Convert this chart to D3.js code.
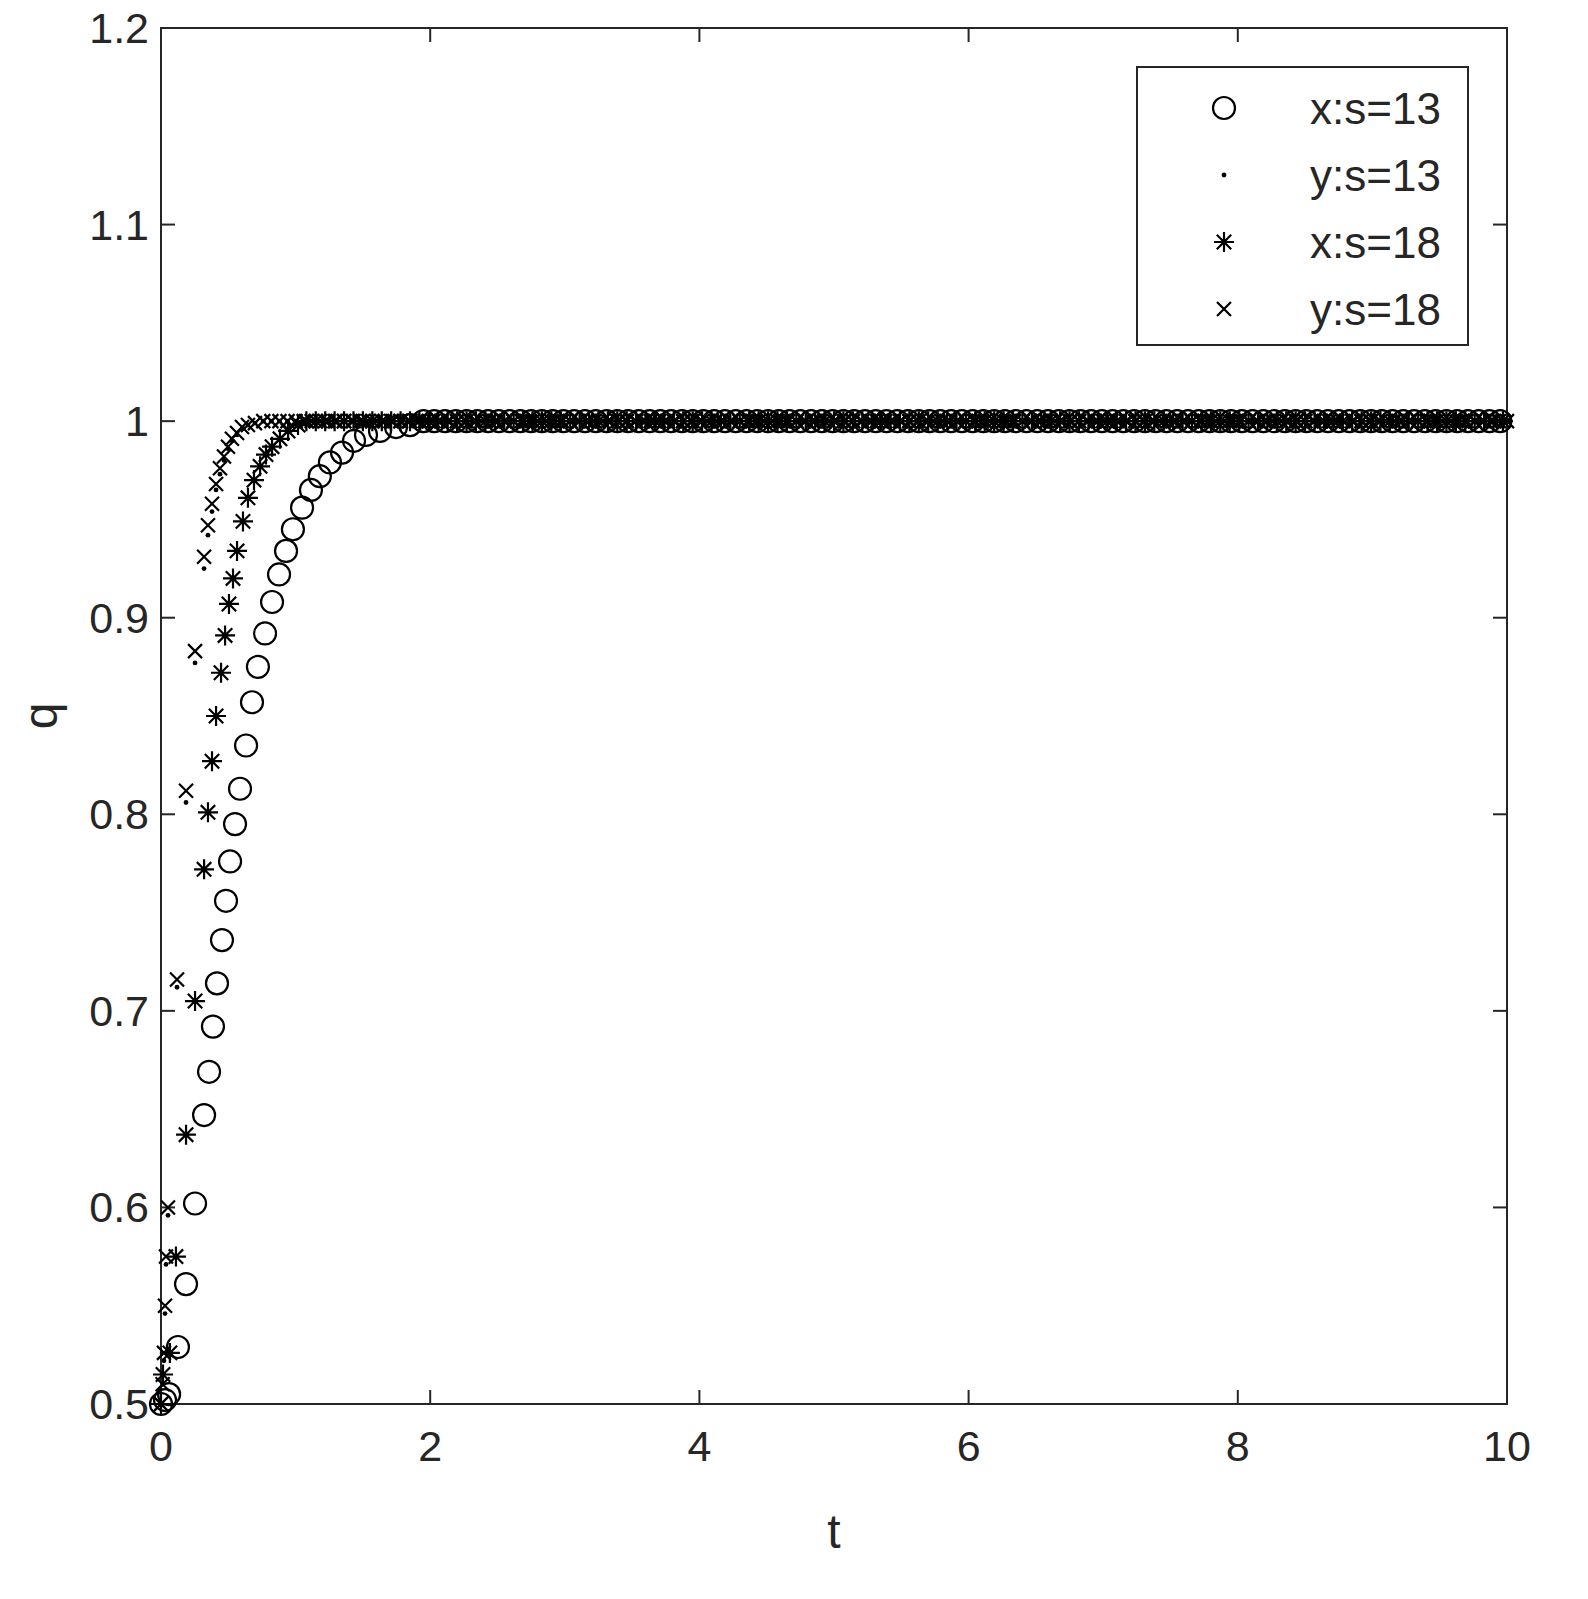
<!DOCTYPE html>
<html>
<head>
<meta charset="utf-8">
<script src="https://cdn.jsdelivr.net/npm/d3@7"></script>
<style>
body { margin: 0; background: #fff; }
text { font-family: "Liberation Sans", Arial, sans-serif; fill: #262626; }
</style>
</head>
<body>
<svg id="chart" width="1588" height="1599"></svg>
<script>
// values
const xTicks = [0, 2, 4, 6, 8, 10];
const yTicks = [0.5, 0.6, 0.7, 0.8, 0.9, 1, 1.1, 1.2];

// x:s=13 (circles)
const tX13 = [0, 0.03, 0.06, 0.126, 0.186, 0.253, 0.32, 0.357, 0.386, 0.416, 0.453, 0.483, 0.513, 0.55, 0.587, 0.632, 0.676, 0.72, 0.773, 0.825, 0.877, 0.929, 0.98, 1.048, 1.114, 1.18, 1.255, 1.345, 1.434, 1.523, 1.627, 1.746, 1.85];
const qX13 = [0.5, 0.502, 0.505, 0.529, 0.561, 0.602, 0.647, 0.669, 0.692, 0.714, 0.736, 0.756, 0.776, 0.795, 0.813, 0.835, 0.857, 0.875, 0.892, 0.908, 0.922, 0.934, 0.945, 0.956, 0.965, 0.972, 0.979, 0.984, 0.99, 0.993, 0.995, 0.997, 0.998];

// y:s=13 (dots)
const tY13 = [0, 0.022, 0.03, 0.037, 0.052, 0.119, 0.186, 0.253, 0.32, 0.349, 0.379, 0.409, 0.438, 0.468, 0.498, 0.527, 0.565, 0.602, 0.646, 0.698];
const qY13 = [0.5, 0.522, 0.546, 0.571, 0.596, 0.712, 0.806, 0.877, 0.925, 0.942, 0.954, 0.965, 0.973, 0.98, 0.986, 0.99, 0.993, 0.996, 0.998, 0.999];

// x:s=18 (asterisks)
const tX18 = [0, 0.015, 0.066, 0.111, 0.186, 0.253, 0.32, 0.349, 0.379, 0.409, 0.446, 0.476, 0.505, 0.535, 0.565, 0.609, 0.646, 0.691, 0.736, 0.78, 0.825, 0.884, 0.944, 1.018];
const qX18 = [0.5, 0.515, 0.526, 0.575, 0.637, 0.705, 0.772, 0.801, 0.827, 0.85, 0.872, 0.891, 0.907, 0.92, 0.934, 0.949, 0.961, 0.97, 0.977, 0.983, 0.987, 0.991, 0.995, 0.998];

// y:s=18 (crosses)
const tY18 = [0, 0.012, 0.022, 0.03, 0.037, 0.052, 0.119, 0.186, 0.253, 0.32, 0.349, 0.379, 0.409, 0.438, 0.468, 0.498, 0.527, 0.565, 0.602, 0.646, 0.698];
const qY18 = [0.5, 0.51, 0.526, 0.55, 0.575, 0.6, 0.716, 0.812, 0.883, 0.931, 0.947, 0.958, 0.968, 0.976, 0.982, 0.987, 0.991, 0.994, 0.997, 0.998, 0.999];

// all four series sit at q = 1 after the transient, sampled at the solver steps
const tailX13 = d3.range(1.95, 10.001, 0.08);
const tailY13 = d3.range(0.76, 10.001, 0.06);
const tailX18 = d3.range(1.08, 10.001, 0.07);
const tailY18 = d3.range(0.76, 10.001, 0.06);

const series = [
  { name: "x:s=13", shape: "circle", t: tX13.concat(tailX13), q: qX13.concat(tailX13.map(() => 1)) },
  { name: "y:s=13", shape: "dot", t: tY13.concat(tailY13), q: qY13.concat(tailY13.map(() => 1)) },
  { name: "x:s=18", shape: "star", t: tX18.concat(tailX18), q: qX18.concat(tailX18.map(() => 1)) },
  { name: "y:s=18", shape: "cross", t: tY18.concat(tailY18), q: qY18.concat(tailY18.map(() => 1)) }
];

const svg = d3.select("#chart");
const L = 161, R = 1507, T = 28, B = 1404;
const x = d3.scaleLinear().domain([0, 10]).range([L, R]);
const y = d3.scaleLinear().domain([0.5, 1.2]).range([B, T]);

// box and inward ticks on all sides
svg.append("rect").attr("x", L).attr("y", T).attr("width", R - L).attr("height", B - T)
  .attr("fill", "none").attr("stroke", "#262626").attr("stroke-width", 2);
const tl = 14;
xTicks.forEach(v => {
  svg.append("line").attr("x1", x(v)).attr("x2", x(v)).attr("y1", B).attr("y2", B - tl).attr("stroke", "#262626").attr("stroke-width", 2);
  svg.append("line").attr("x1", x(v)).attr("x2", x(v)).attr("y1", T).attr("y2", T + tl).attr("stroke", "#262626").attr("stroke-width", 2);
  svg.append("text").attr("x", x(v)).attr("y", B + 57).attr("text-anchor", "middle").attr("font-size", 43).text(v);
});
yTicks.forEach(v => {
  svg.append("line").attr("x1", L).attr("x2", L + tl).attr("y1", y(v)).attr("y2", y(v)).attr("stroke", "#262626").attr("stroke-width", 2);
  svg.append("line").attr("x1", R).attr("x2", R - tl).attr("y1", y(v)).attr("y2", y(v)).attr("stroke", "#262626").attr("stroke-width", 2);
  svg.append("text").attr("x", L - 12).attr("y", y(v) + 15).attr("text-anchor", "end").attr("font-size", 43).text(v);
});
svg.append("text").attr("x", (L + R) / 2).attr("y", 1548).attr("text-anchor", "middle").attr("font-size", 48).text("t");
svg.append("text").attr("transform", "translate(57," + (T + B) / 2 + ") rotate(-90)")
  .attr("text-anchor", "middle").attr("font-size", 48).text("q");

function drawMarker(g, shape, cx, cy) {
  if (shape === "circle") {
    g.append("circle").attr("cx", cx).attr("cy", cy).attr("r", 11).attr("fill", "none").attr("stroke", "#000").attr("stroke-width", 2.2);
  } else if (shape === "dot") {
    g.append("circle").attr("cx", cx).attr("cy", cy).attr("r", 2.4).attr("fill", "#000");
  } else if (shape === "star") {
    const s = 10, d = s * 0.72;
    g.append("path").attr("d", `M${cx - s},${cy}H${cx + s}M${cx - d},${cy - d}L${cx + d},${cy + d}M${cx - d},${cy + d}L${cx + d},${cy - d}M${cx},${cy - s}V${cy + s}`)
      .attr("stroke", "#000").attr("stroke-width", 2.2);
  } else {
    const d = 7;
    g.append("path").attr("d", `M${cx - d},${cy - d}L${cx + d},${cy + d}M${cx - d},${cy + d}L${cx + d},${cy - d}`)
      .attr("stroke", "#000").attr("stroke-width", 2.2);
  }
}

const plot = svg.append("g");
series.forEach(s => {
  s.t.forEach((tv, i) => drawMarker(plot, s.shape, x(tv), y(s.q[i])));
});

// legend
const lg = svg.append("g");
lg.append("rect").attr("x", 1137).attr("y", 67).attr("width", 331).attr("height", 278)
  .attr("fill", "#fff").attr("stroke", "#262626").attr("stroke-width", 2);
series.forEach((s, i) => {
  const ly = 108 + i * 67;
  drawMarker(lg, s.shape, 1224, ly);
  lg.append("text").attr("x", 1310).attr("y", ly + 16).attr("font-size", 44).text(s.name);
});
</script>
</body>
</html>
